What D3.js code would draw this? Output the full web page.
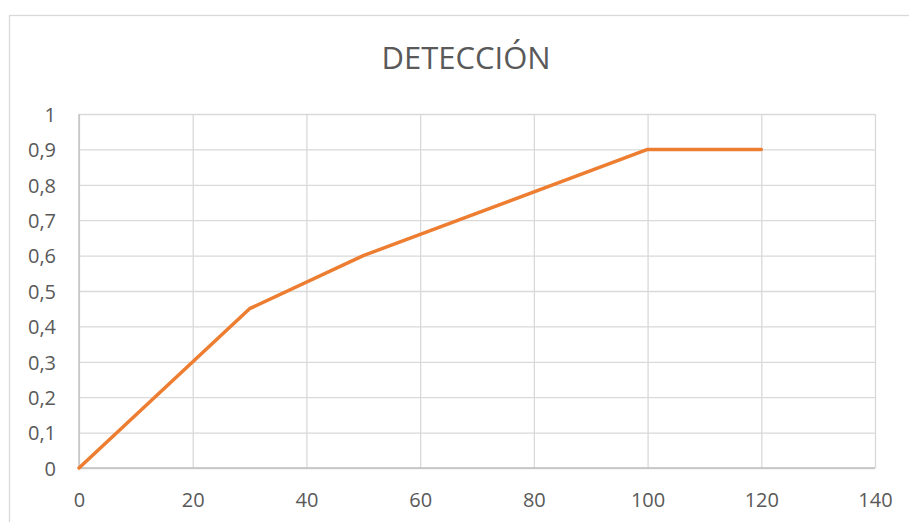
<!DOCTYPE html>
<html>
<head>
<meta charset="utf-8">
<script src="https://cdn.jsdelivr.net/npm/d3@7"></script>
<style>
  html, body { margin: 0; padding: 0; background: #ffffff; }
  svg { display: block; }
  text { font-family: "Open Sans", "Liberation Sans", sans-serif; fill: #595959; }
</style>
</head>
<body>
<svg id="chart" width="909" height="522"></svg>
<script>
// Detection curve: x value against detection rate
const xValues = [0, 30, 50, 100, 120];
const yValues = [0, 0.45, 0.6, 0.9, 0.9];
const xTicks = [0, 20, 40, 60, 80, 100, 120, 140];
const yTicks = [0, 0.1, 0.2, 0.3, 0.4, 0.5, 0.6, 0.7, 0.8, 0.9, 1];
const title = "DETECCIÓN";

const svg = d3.select("#chart");
const W = 909, H = 522;
const plot = { left: 79, right: 875, top: 114, bottom: 468 };

// Chart frame
svg.append("rect")
  .attr("x", 9.5).attr("y", 15.5)
  .attr("width", W).attr("height", H)
  .attr("fill", "#ffffff")
  .attr("stroke", "#d9d9d9").attr("stroke-width", 1.3);

const x = d3.scaleLinear().domain([0, 140]).range([plot.left, plot.right]);
const y = d3.scaleLinear().domain([0, 1]).range([plot.bottom, plot.top]);

// Vertical gridlines
svg.append("g")
  .attr("transform", `translate(0,${plot.bottom})`)
  .call(d3.axisBottom(x).tickValues(xTicks).tickSize(-(plot.bottom - plot.top)).tickFormat(""))
  .call(g => g.select(".domain").remove())
  .call(g => g.selectAll("line").attr("stroke", "#d9d9d9").attr("stroke-width", 1.3));

// Horizontal gridlines
svg.append("g")
  .attr("transform", `translate(${plot.left},0)`)
  .call(d3.axisLeft(y).tickValues(yTicks).tickSize(-(plot.right - plot.left)).tickFormat(""))
  .call(g => g.select(".domain").remove())
  .call(g => g.selectAll("line").attr("stroke", "#d9d9d9").attr("stroke-width", 1.3));

// Axis lines
svg.append("line")
  .attr("x1", plot.left).attr("x2", plot.right)
  .attr("y1", plot.bottom).attr("y2", plot.bottom)
  .attr("stroke", "#bfbfbf").attr("stroke-width", 1.3);
svg.append("line")
  .attr("x1", plot.left).attr("x2", plot.left)
  .attr("y1", plot.top).attr("y2", plot.bottom)
  .attr("stroke", "#bfbfbf").attr("stroke-width", 1.3);

// X tick labels
const xAxis = svg.append("g")
  .attr("transform", `translate(0,${plot.bottom})`)
  .call(d3.axisBottom(x).tickValues(xTicks).tickSize(0).tickPadding(0).tickFormat(d3.format("d")));
xAxis.select(".domain").remove();
xAxis.selectAll("text")
  .attr("y", 39).attr("dy", null)
  .style("font-size", "20px")
  .attr("fill", "#595959");

// Y tick labels, decimal comma
const commaFmt = d => d === 0 || d === 1 ? String(d) : d3.format(".1f")(d).replace(".", ",");
const yAxis = svg.append("g")
  .attr("transform", `translate(${plot.left},0)`)
  .call(d3.axisLeft(y).tickValues(yTicks).tickSize(0).tickPadding(23).tickFormat(commaFmt));
yAxis.select(".domain").remove();
yAxis.selectAll("text")
  .attr("dy", "0.36em")
  .style("font-size", "20px")
  .attr("fill", "#595959");

// Title
svg.append("text")
  .attr("x", 466).attr("y", 69)
  .attr("text-anchor", "middle")
  .style("font-size", "31px")
  .attr("fill", "#595959")
  .text(title);

// Series line
const points = xValues.map((v, i) => [v, yValues[i]]);
svg.append("path")
  .datum(points)
  .attr("fill", "none")
  .attr("stroke", "#ed7d31")
  .attr("stroke-width", 3.5)
  .attr("stroke-linejoin", "round")
  .attr("stroke-linecap", "round")
  .attr("d", d3.line().x(d => x(d[0])).y(d => y(d[1])));
</script>
</body>
</html>
